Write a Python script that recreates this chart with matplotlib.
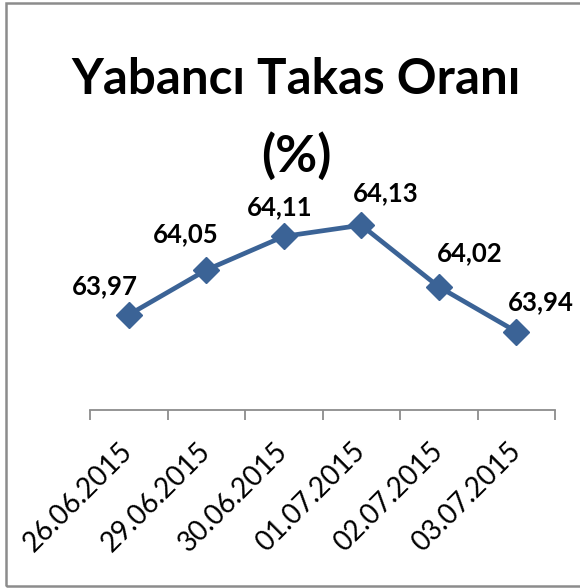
#!/usr/bin/env python3
"""Yabanci takas orani line chart."""

import matplotlib

matplotlib.use("Agg")

import matplotlib.pyplot as plt
from matplotlib.patches import Rectangle

DATES = ["26.06.2015", "29.06.2015", "30.06.2015", "01.07.2015", "02.07.2015", "03.07.2015"]
VALUES = [63.97, 64.05, 64.11, 64.13, 64.02, 63.94]
LABELS = ["63,97", "64,05", "64,11", "64,13", "64,02", "63,94"]

# label nudges in pixels (dx, dy)
LABEL_OFFSETS = [(-24, 29), (-20, 36), (-4, 29), (24, 32), (31, 34), (25, 29)]

FAMILY = ["Lato", "DejaVu Sans"]
LINE_COLOR = "#3b6396"
W, H = 580, 588

plt.rcParams["font.family"] = FAMILY

fig = plt.figure(figsize=(W / 100, H / 100), dpi=100)
ax = fig.add_axes([90 / W, 1 - 410 / H, 465 / W, 224 / H])

x = list(range(len(VALUES)))
ax.plot(x, VALUES, color=LINE_COLOR, linewidth=3.4, marker="D", markersize=13,
        markerfacecolor=LINE_COLOR, markeredgecolor=LINE_COLOR, solid_joinstyle="round")

for xi, v, lab, (dx, dy) in zip(x, VALUES, LABELS, LABEL_OFFSETS):
    ax.annotate(lab, (xi, v), xytext=(dx * 0.72, dy * 0.72), textcoords="offset points",
                ha="center", va="center", fontsize=18.5, fontweight="bold", color="#000000")

ax.set_xlim(-0.5, len(VALUES) - 0.5)
ax.set_ylim(63.8, 64.2)

ax.set_xticks(x)
ax.set_xticklabels(DATES, rotation=45, ha="right", va="center", rotation_mode="anchor",
                   fontsize=20)
ax.tick_params(axis="x", which="major", length=0, pad=27)
ax.set_xticks([i - 0.5 for i in range(len(VALUES) + 1)], minor=True)
ax.tick_params(axis="x", which="minor", length=7, width=1.3, color="#8c8c8c", direction="out")
ax.set_yticks([])

for side in ["top", "right", "left"]:
    ax.spines[side].set_visible(False)
ax.spines["bottom"].set_color("#8c8c8c")
ax.spines["bottom"].set_linewidth(1.3)

fig.text(296 / W, 1 - 94 / H, "Yabancı Takas Oranı", ha="center", va="baseline",
         fontsize=35.5, fontweight="bold")
fig.text(296 / W, 1 - 172 / H, "(%)", ha="center", va="baseline",
         fontsize=37, fontweight="bold")

fig.patches.append(Rectangle((6 / W, 1 - 586 / H), 1.0, (583) / H, transform=fig.transFigure,
                             fill=False, edgecolor="#8c8c8c", linewidth=1.8, figure=fig))

fig.savefig("out.png", dpi=100)
